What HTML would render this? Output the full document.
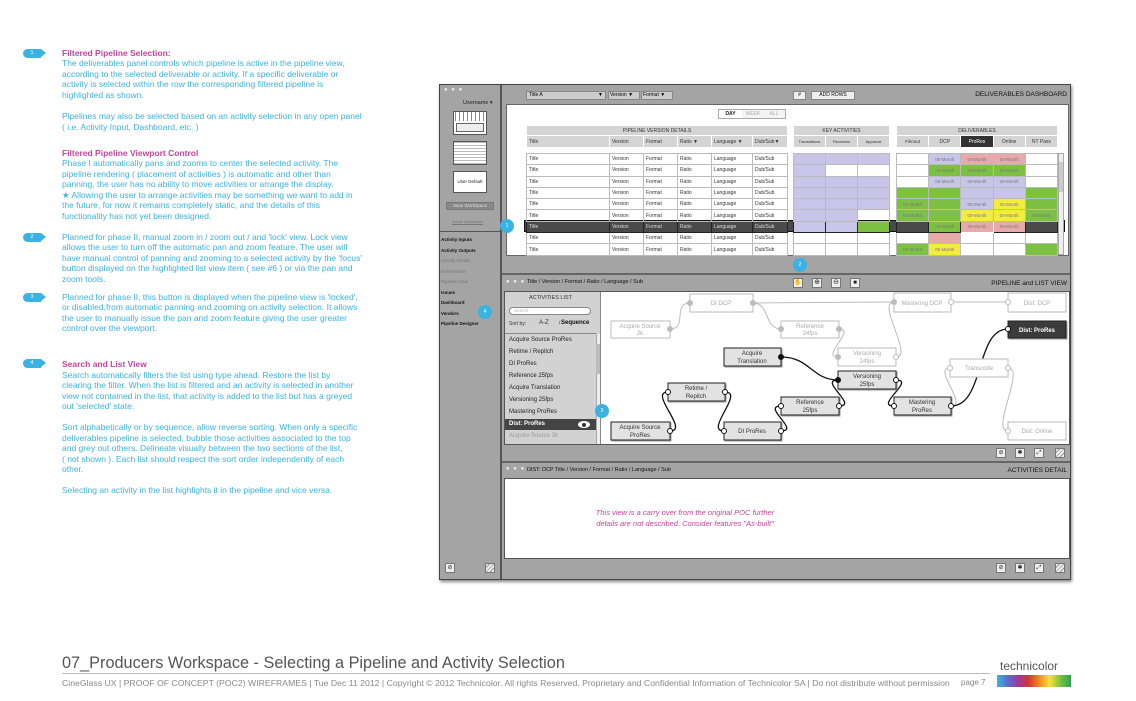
<!DOCTYPE html>
<html><head><meta charset="utf-8">
<style>
*{margin:0;padding:0;box-sizing:border-box}
body{width:1136px;height:701px;background:#fff;position:relative;overflow:hidden;font-family:"Liberation Sans",sans-serif}
.a{position:absolute}
.t{position:absolute;left:62px;font-size:8.5px;color:#3ab3e2;white-space:nowrap;line-height:10px}
.h{color:#c8439b;font-weight:bold}
.bub{position:absolute;width:18px;height:9px;background:#3ab3e2;border-radius:5px 0 0 5px;color:#fff;font-size:5px;line-height:9px;text-align:center}
.bub:after{content:"";position:absolute;right:-5px;top:0;border-left:5px solid #3ab3e2;border-top:4.5px solid transparent;border-bottom:4.5px solid transparent}
.cb{position:absolute;width:14px;height:14px;border-radius:50%;background:#3ab3e2;color:#fff;font-size:5px;line-height:14px;text-align:center}
table{position:absolute;border-collapse:collapse;table-layout:fixed;font-size:5px;color:#333}
td{border:1px solid #bbb;padding:0 2px;height:11.3px;white-space:nowrap;overflow:hidden}
.hd td{background:#d4d4d4;text-align:center;font-weight:normal;border-color:#fff}
.L{background:#c9c5e8}.G{background:#7dc142}.P{background:#e8a9a9}.Y{background:#f3ec3a}.D{background:#4a4a4a;color:#ddd}
.dl td{text-align:center;color:#777;font-size:4.5px}
.sel td{background:#4a4a4a;color:#ddd;border-color:#222}
.ic{position:absolute;width:10px;height:10px;background:#eee;border:1px solid #777;font-size:7px;line-height:8px;text-align:center;color:#222}
.sb{position:absolute;left:441px;font-size:4.5px;font-weight:bold;color:#111}
.sbg{color:#777;font-weight:normal}
.li{position:absolute;left:509px;font-size:6px;color:#222}
</style></head><body>

<!-- left text -->
<div class="bub" style="left:23px;top:49px">1</div>
<div class="t h" style="top:48px">Filtered Pipeline Selection:</div>
<div class="t" style="top:58px">The deliverables panel controls which pipeline is active in the pipeline view,</div>
<div class="t" style="top:69px">according to the selected deliverable or activity.  If a specific deliverable or</div>
<div class="t" style="top:79px">activity is selected within the row the corresponding filtered pipeline is</div>
<div class="t" style="top:90px">highlighted as shown.</div>
<div class="t" style="top:111px">Pipelines may also be selected based on an activity selection in any open panel</div>
<div class="t" style="top:122px">( i.e. Activity Input, Dashboard, etc. )</div>
<div class="t h" style="top:148px">Filtered Pipeline Viewport Control</div>
<div class="t" style="top:158px">Phase I  automatically pans and zooms to center the selected activity.  The</div>
<div class="t" style="top:169px">pipeline rendering ( placement  of activities ) is automatic and other than</div>
<div class="t" style="top:179px">panning, the user has no ability to move activities or arrange the display.</div>
<div class="t" style="top:190px">★ Allowing the user to arrange activities may be something we want to add in</div>
<div class="t" style="top:200px">the future, for now it remains completely static, and the details of this</div>
<div class="t" style="top:211px">functionality has not yet been designed.</div>
<div class="bub" style="left:23px;top:233px">2</div>
<div class="t" style="top:232px">Planned for phase II, manual zoom in / zoom out / and 'lock' view.  Lock view</div>
<div class="t" style="top:242px">allows the user to turn off the automatic pan and zoom feature.  The user will</div>
<div class="t" style="top:253px">have manual control of panning and zooming to a selected activity by the 'focus'</div>
<div class="t" style="top:263px">button displayed on the highlighted list view item ( see #6 ) or via the pan and</div>
<div class="t" style="top:274px">zoom tools.</div>
<div class="bub" style="left:23px;top:293px">3</div>
<div class="t" style="top:292px">Planned for phase II, this button is displayed when the pipeline view is 'locked',</div>
<div class="t" style="top:302px">or disabled,from automatic panning and zooming on activity selection.  It allows</div>
<div class="t" style="top:313px">the user to manually issue the pan and zoom feature giving the user greater</div>
<div class="t" style="top:323px">control over the viewport.</div>
<div class="bub" style="left:23px;top:359px">4</div>
<div class="t h" style="top:359px">Search and List View</div>
<div class="t" style="top:370px">Search automatically filters the list using type ahead.  Restore the list by</div>
<div class="t" style="top:380px">clearing the filter.  When the list is filtered and an activity is selected in another</div>
<div class="t" style="top:391px">view not contained in the list, that activity is added to the list but has a greyed</div>
<div class="t" style="top:401px">out 'selected' state.</div>
<div class="t" style="top:422px">Sort alphabetically or by sequence, allow reverse sorting.  When only a specific</div>
<div class="t" style="top:433px">deliverables pipeline is selected, bubble those activities associated to the top</div>
<div class="t" style="top:443px">and grey out others.  Delineate visually between the two sections of the list,</div>
<div class="t" style="top:454px">( not shown ).  Each list should respect the sort order independently of each</div>
<div class="t" style="top:464px">other.</div>
<div class="t" style="top:485px">Selecting an activity in the list highlights it in the pipeline and vice versa.</div>

<!-- window -->
<div class="a" style="left:439px;top:84px;width:632px;height:496px;background:#a4a4a4;border:1px solid #444;box-shadow:1px 2px 3px #888"></div>
<div class="a" style="left:500px;top:85px;width:2px;height:494px;background:#555"></div>
<div class="a" style="left:440px;top:231px;width:60px;height:1px;background:#555"></div>
<div class="a" style="left:502px;top:273px;width:568px;height:2px;background:#666"></div>
<div class="a" style="left:502px;top:461px;width:568px;height:2px;background:#666"></div>

<!-- sidebar -->
<div class="a" style="left:444px;top:87px;font-size:6px;color:#eee;letter-spacing:1px">● ● ●</div>
<div class="a" style="left:463px;top:100px;font-size:5.5px;color:#222">Username ▾</div>
<div class="a" style="left:453px;top:111px;width:34px;height:24px;background:#fff;border:1px solid #555;background-image:repeating-linear-gradient(90deg,#fff 0 1px,#888 1px 2px,#fff 2px 4px);background-size:100% 9px;background-repeat:no-repeat"></div>
<div class="a" style="left:456px;top:123px;width:28px;height:9px;border:1px solid #666;background:#eee"></div>
<div class="a" style="left:453px;top:141px;width:34px;height:24px;background:#fff;border:1px solid #555;background-image:repeating-linear-gradient(180deg,#bbb 0 1px,#fff 1px 3px)"></div>
<div class="a" style="left:453px;top:171px;width:34px;height:22px;background:#fff;border:1px solid #555;font-size:4.5px;text-align:center;line-height:20px;color:#222">User Default</div>
<div class="a" style="left:446px;top:202px;width:48px;height:8px;background:#888;border:1px solid #777;font-size:4.5px;text-align:center;line-height:6px;color:#ddd">Save Workspace</div>
<div class="a" style="left:452px;top:219px;font-size:4px;color:#777;text-decoration:underline">delete workspace</div>
<div class="sb" style="top:237px">Activity Inputs</div>
<div class="sb" style="top:248px">Activity Outputs</div>
<div class="sb sbg" style="top:258px">Activity Details</div>
<div class="sb sbg" style="top:269px">Deliverables</div>
<div class="sb sbg" style="top:279px">Pipeline View</div>
<div class="sb" style="top:290px">Issues</div>
<div class="sb" style="top:300px">Dashboard</div>
<div class="sb" style="top:311px">Vendors</div>
<div class="sb" style="top:321px">Pipeline Designer</div>
<div class="ic" style="left:445px;top:563px;font-size:6px">⊘</div>
<div class="ic" style="left:485px;top:563px;background:repeating-linear-gradient(135deg,#eee 0 2px,#999 2px 3px)"></div>

<!-- dashboard header -->
<div class="a" style="left:526px;top:91px;width:80px;height:9px;background:#ccc;border:1px solid #888;font-size:5px;line-height:7px;padding-left:2px">Title A<span style="float:right;padding-right:2px">▼</span></div>
<div class="a" style="left:608px;top:91px;width:32px;height:9px;background:#ccc;border:1px solid #888;font-size:5px;line-height:7px;padding-left:1px">Version ▼</div>
<div class="a" style="left:641px;top:91px;width:32px;height:9px;background:#ccc;border:1px solid #888;font-size:5px;line-height:7px;padding-left:1px">Format ▼</div>
<div class="a" style="left:793px;top:91px;width:13px;height:9px;background:#eee;border:1px solid #888;font-size:5px;line-height:7px;text-align:center">#</div>
<div class="a" style="left:811px;top:91px;width:44px;height:9px;background:#eee;border:1px solid #888;font-size:5px;line-height:7px;text-align:center">ADD ROWS</div>
<div class="a" style="left:960px;top:91px;width:107px;text-align:right;font-size:6.5px;color:#111">DELIVERABLES DASHBOARD</div>
<div class="a" style="left:506px;top:104px;width:563px;height:152px;background:#fff;border:1px solid #666"></div>
<div class="a" style="left:718px;top:109px;width:68px;height:10px;border:1px solid #aaa;font-size:5px;line-height:8px;color:#aaa;background:#f4f4f4"><span style="display:inline-block;width:23px;text-align:center;color:#222;background:#fff;font-weight:bold">DAY</span><span style="display:inline-block;width:22px;text-align:center">WEEK</span><span style="display:inline-block;width:20px;text-align:center">ALL</span></div>

<!-- header tables -->
<table class="hd" style="left:526px;top:125px;width:261px"><colgroup><col style="width:83px"><col style="width:34px"><col style="width:34px"><col style="width:34px"><col style="width:41px"><col style="width:35px"></colgroup>
<tr style="height:10px"><td colspan="6" style="height:10px">PIPELINE VERSION DETAILS</td></tr>
<tr style="height:12px"><td style="text-align:left;height:12px">Title</td><td style="text-align:left">Version</td><td style="text-align:left">Format</td><td style="text-align:left">Ratio ▼</td><td style="text-align:left">Language ▼</td><td style="text-align:left">Dub/Sub▼</td></tr></table>
<table class="hd" style="left:793px;top:125px;width:97px"><tr style="height:10px"><td colspan="3" style="height:10px">KEY ACTIVITIES</td></tr>
<tr style="height:12px"><td style="height:12px;font-size:4px">Translations</td><td style="font-size:4px">Revisions</td><td style="font-size:4px">Approval</td></tr></table>
<table class="hd" style="left:896px;top:125px;width:162px"><tr style="height:10px"><td colspan="5" style="height:10px">DELIVERABLES</td></tr>
<tr style="height:12px"><td style="height:12px;font-size:4.5px">Filmout</td><td>DCP</td><td style="background:#333;color:#fff">ProRes</td><td>Online</td><td>NT Pass</td></tr></table>

<!-- selected row band -->
<div class="a" style="left:524px;top:220px;width:541px;height:12px;background:#4a4a4a;border:1px solid #111"></div>

<table style="left:526px;top:153px;width:261px"><colgroup><col style="width:83px"><col style="width:34px"><col style="width:34px"><col style="width:34px"><col style="width:41px"><col style="width:35px"></colgroup>
<tr><td>Title</td><td>Version</td><td>Format</td><td>Ratio</td><td>Language</td><td>Dub/Sub</td></tr>
<tr><td>Title</td><td>Version</td><td>Format</td><td>Ratio</td><td>Language</td><td>Dub/Sub</td></tr>
<tr><td>Title</td><td>Version</td><td>Format</td><td>Ratio</td><td>Language</td><td>Dub/Sub</td></tr>
<tr><td>Title</td><td>Version</td><td>Format</td><td>Ratio</td><td>Language</td><td>Dub/Sub</td></tr>
<tr><td>Title</td><td>Version</td><td>Format</td><td>Ratio</td><td>Language</td><td>Dub/Sub</td></tr>
<tr><td>Title</td><td>Version</td><td>Format</td><td>Ratio</td><td>Language</td><td>Dub/Sub</td></tr>
<tr class="sel"><td>Title</td><td>Version</td><td>Format</td><td>Ratio</td><td>Language</td><td>Dub/Sub</td></tr>
<tr><td>Title</td><td>Version</td><td>Format</td><td>Ratio</td><td>Language</td><td>Dub/Sub</td></tr>
<tr><td>Title</td><td>Version</td><td>Format</td><td>Ratio</td><td>Language</td><td>Dub/Sub</td></tr></table>

<table style="left:793px;top:153px;width:97px">
<tr><td class="L"></td><td class="L"></td><td class="L"></td></tr>
<tr><td class="L"></td><td></td><td></td></tr>
<tr><td class="L"></td><td class="L"></td><td class="L"></td></tr>
<tr><td class="L"></td><td class="L"></td><td class="L"></td></tr>
<tr><td class="L"></td><td class="L"></td><td class="L"></td></tr>
<tr><td class="L"></td><td class="L"></td><td></td></tr>
<tr><td class="L" style="border-color:#222"></td><td class="L" style="border-color:#222"></td><td class="G" style="border-color:#222"></td></tr>
<tr><td></td><td></td><td></td></tr>
<tr><td></td><td></td><td></td></tr></table>

<table class="dl" style="left:896px;top:153px;width:162px">
<tr><td></td><td class="L">00-Month</td><td class="P">00-Month</td><td class="P">00-Month</td><td></td></tr>
<tr><td></td><td class="G">00-Month</td><td class="G">00-Month</td><td class="G">00-Month</td><td></td></tr>
<tr><td></td><td class="L">00-Month</td><td class="L">00-Month</td><td class="L">00-Month</td><td></td></tr>
<tr><td class="G"></td><td class="G"></td><td class="L"></td><td class="L"></td><td class="G"></td></tr>
<tr><td class="G">00-Month</td><td class="G"></td><td class="L">00-Month</td><td class="Y">00-Month</td><td class="G"></td></tr>
<tr><td class="G">00-Month</td><td class="G"></td><td class="Y">00-Month</td><td class="Y">00-Month</td><td class="G">00-Month</td></tr>
<tr><td class="D" style="border-color:#222"></td><td class="G" style="border-color:#222">00-Month</td><td class="P" style="border:1px solid #fff">00-Month</td><td class="P" style="border-color:#222">00-Month</td><td class="D" style="border-color:#222"></td></tr>
<tr><td></td><td class="P"></td><td></td><td></td><td></td></tr>
<tr><td class="G">00-Month</td><td class="Y">00-Month</td><td></td><td></td><td class="G"></td></tr></table>
<div class="a" style="left:1058px;top:153px;width:6px;height:102px;background:#eee;border:1px solid #aaa"></div>
<div class="a" style="left:1059px;top:162px;width:4px;height:30px;background:#ccc"></div>

<!-- pipeline panel -->
<div class="a" style="left:506px;top:279px;font-size:6px;color:#eee;letter-spacing:1px">● ● ●</div>
<div class="a" style="left:527px;top:279px;font-size:5.5px;color:#111">Title / Version / Format / Ratio / Language / Sub</div>
<div class="ic" style="left:793px;top:278px;font-size:6px">✋</div>
<div class="ic" style="left:812px;top:278px;font-size:7px">⊕</div>
<div class="ic" style="left:831px;top:278px;font-size:7px">⊖</div>
<div class="ic" style="left:850px;top:278px;font-size:6px">■</div>
<div class="a" style="left:960px;top:280px;width:107px;text-align:right;font-size:6.5px;color:#111">PIPELINE and LIST VIEW</div>
<div class="a" style="left:504px;top:291px;width:566px;height:154px;background:#fff;border:1px solid #555"></div>
<div class="a" style="left:505px;top:292px;width:96px;height:152px;background:#d2d2d2;border-right:1px solid #888"></div>
<div class="a" style="left:505px;top:295px;width:91px;text-align:center;font-size:5.5px;color:#333">ACTIVITIES LIST</div>
<div class="a" style="left:509px;top:307px;width:82px;height:8px;background:#fff;border:1px solid #888;border-radius:4px;font-size:4.5px;color:#bbb;padding-left:4px;line-height:6px">Search</div>
<div class="a" style="left:509px;top:321px;font-size:5px;color:#333">Sort by:</div>
<div class="a" style="left:539px;top:320px;font-size:6px;color:#333">A-Z</div>
<div class="a" style="left:558px;top:320px;font-size:6px;color:#111;font-weight:bold">↓Sequence</div>
<div class="a" style="left:505px;top:333px;width:91px;height:1px;background:#888"></div>
<div class="li" style="top:337px">Acquire Source ProRes</div>
<div class="li" style="top:349px">Retime / Repitch</div>
<div class="li" style="top:361px">DI ProRes</div>
<div class="li" style="top:373px">Reference 25fps</div>
<div class="li" style="top:385px">Acquire Translation</div>
<div class="li" style="top:397px">Versioning 25fps</div>
<div class="li" style="top:409px">Mastering ProRes</div>
<div class="a" style="left:505px;top:419px;width:91px;height:11px;background:#444"></div>
<div class="li" style="top:421px;color:#fff;font-weight:bold">Dist: ProRes</div>
<div class="a" style="left:578px;top:421px;width:12px;height:7px;border:1px solid #fff;border-radius:50%;background:#fff"></div>
<div class="a" style="left:582px;top:423px;width:4px;height:4px;border-radius:50%;background:#333"></div>
<div class="li" style="top:433px;color:#999">Acquire Source 2k</div>
<div class="a" style="left:596px;top:334px;width:4px;height:110px;background:#eee;border-left:1px solid #aaa"></div>
<div class="a" style="left:596px;top:344px;width:4px;height:30px;background:#bbb"></div>
<div class="ic" style="left:996px;top:448px;font-size:6px">⊘</div>
<div class="ic" style="left:1015px;top:448px;font-size:6px">✱</div>
<div class="ic" style="left:1034px;top:448px;font-size:6px">⤢</div>
<div class="ic" style="left:1055px;top:448px;background:repeating-linear-gradient(135deg,#eee 0 2px,#999 2px 3px)"></div>

<svg class="a" style="left:0;top:0" width="1136" height="701" viewBox="0 0 1136 701" font-family="Liberation Sans, sans-serif" font-size="6">
<defs><filter id="s"><feDropShadow dx="1" dy="1" stdDeviation="0.6" flood-color="#555" flood-opacity="0.6"/></filter></defs>
<g fill="none" stroke="#bbb" stroke-width="1">
<path d="M670 329 C688 329 672 303 690 303"/>
<path d="M753 303 C770 303 764 329 781 329"/>
<path d="M753 303 L894 302"/>
<path d="M839 329 C857 329 820 357 838 357"/>
<path d="M896 357 C914 357 876 302 894 302"/>
<path d="M951 302 L1008 302"/>
<path d="M951 406 C969 406 932 368 950 368"/>
<path d="M1008 368 C1026 368 990 431 1008 431"/>
</g>
<g fill="none" stroke="#111" stroke-width="1.3">
<path d="M670 431 C690 431 648 392 668 392"/>
<path d="M725 392 C745 392 704 431 724 431"/>
<path d="M781 431 C801 431 761 406 781 406"/>
<path d="M839 406 C859 406 818 380 838 380"/>
<path d="M781 357 C810 357 812 380 838 380"/>
<path d="M896 380 C916 380 874 406 894 406"/>
<path d="M951 406 C985 406 975 329 1008 329"/>
</g>
<g fill="#fff" stroke="#bbb">
<rect x="690" y="294" width="63" height="18"/><rect x="611" y="321" width="59" height="17"/>
<rect x="781" y="321" width="58" height="17"/><rect x="894" y="293" width="57" height="19"/>
<rect x="1008" y="293" width="58" height="19"/><rect x="838" y="348" width="58" height="18"/>
<rect x="950" y="359" width="58" height="18"/><rect x="1008" y="422" width="58" height="18"/>
</g>
<g fill="#aaa" text-anchor="middle">
<text x="721" y="305">DI DCP</text><text x="640" y="328">Acquire Source</text><text x="640" y="335">2k</text>
<text x="810" y="328">Reference</text><text x="810" y="335">24fps</text><text x="922" y="305">Mastering DCP</text>
<text x="1037" y="305">Dist: DCP</text><text x="867" y="355">Versioning</text><text x="867" y="363">24fps</text>
<text x="979" y="370">Transcode</text><text x="1037" y="433">Dist: Online</text>
</g>
<g fill="#e2e2e2" stroke="#222" filter="url(#s)">
<rect x="724" y="348" width="57" height="18"/><rect x="838" y="371" width="58" height="18"/>
<rect x="668" y="383" width="57" height="18"/><rect x="781" y="397" width="58" height="18"/>
<rect x="894" y="397" width="57" height="18"/><rect x="611" y="422" width="59" height="18"/>
<rect x="724" y="422" width="57" height="18"/>
<rect x="1008" y="321" width="58" height="17" fill="#3a3a3a"/>
</g>
<g fill="#333" text-anchor="middle">
<text x="752" y="355">Acquire</text><text x="752" y="363">Translation</text>
<text x="867" y="378">Versioning</text><text x="867" y="386">25fps</text>
<text x="696" y="390">Retime /</text><text x="696" y="398">Repitch</text>
<text x="810" y="404">Reference</text><text x="810" y="412">25fps</text>
<text x="922" y="404">Mastering</text><text x="922" y="412">ProRes</text>
<text x="640" y="429">Acquire Source</text><text x="640" y="437">ProRes</text>
<text x="752" y="433">DI ProRes</text>
<text x="1037" y="332" fill="#fff" font-weight="bold">Dist: ProRes</text>
</g>
<g fill="#fff" stroke="#bbb">
<circle cx="690" cy="303" r="2.5" fill="#bbb"/><circle cx="753" cy="303" r="2.5" fill="#bbb"/><circle cx="670" cy="329" r="2.5" fill="#bbb"/>
<circle cx="781" cy="329" r="2.5" fill="#bbb"/><circle cx="839" cy="329" r="2.5" fill="#bbb"/><circle cx="894" cy="302" r="2.5" fill="#bbb"/>
<circle cx="951" cy="302" r="2.5"/><circle cx="1008" cy="302" r="2.5"/><circle cx="838" cy="357" r="2.5" fill="#bbb"/>
<circle cx="896" cy="357" r="2.5"/><circle cx="950" cy="368" r="2.5"/><circle cx="1008" cy="368" r="2.5"/><circle cx="1008" cy="431" r="2.5"/>
</g>
<g fill="#fff" stroke="#111">
<circle cx="670" cy="431" r="2.5"/><circle cx="668" cy="392" r="2.5"/><circle cx="725" cy="392" r="2.5"/><circle cx="724" cy="431" r="2.5"/>
<circle cx="781" cy="431" r="2.5"/><circle cx="781" cy="406" r="2.5"/><circle cx="839" cy="406" r="2.5"/><circle cx="838" cy="380" r="2.5" fill="#111"/>
<circle cx="781" cy="357" r="2.5" fill="#111"/><circle cx="896" cy="380" r="2.5"/><circle cx="894" cy="406" r="2.5"/><circle cx="951" cy="406" r="2.5"/><circle cx="1008" cy="329" r="2.5"/>
</g>
</svg>

<!-- detail panel -->
<div class="a" style="left:506px;top:466px;font-size:6px;color:#eee;letter-spacing:1px">● ● ●</div>
<div class="a" style="left:527px;top:467px;font-size:5.5px;color:#111">DIST: DCP Title / Version / Format / Ratio / Language / Sub</div>
<div class="a" style="left:960px;top:467px;width:107px;text-align:right;font-size:6.5px;color:#111">ACTIVITIES DETAIL</div>
<div class="a" style="left:504px;top:478px;width:566px;height:81px;background:#fff;border:1px solid #555"></div>
<div class="a" style="left:560px;top:507px;width:250px;text-align:center;font-size:7.5px;font-style:italic;color:#c8439b;line-height:11px">This view is a carry over from the original POC further<br>details are not described. Consider features "As-built"</div>
<div class="ic" style="left:996px;top:563px;font-size:6px">⊘</div>
<div class="ic" style="left:1015px;top:563px;font-size:6px">✱</div>
<div class="ic" style="left:1034px;top:563px;font-size:6px">⤢</div>
<div class="ic" style="left:1055px;top:563px;background:repeating-linear-gradient(135deg,#eee 0 2px,#999 2px 3px)"></div>

<!-- callouts -->
<div class="cb" style="left:500px;top:219px">1</div>
<div class="cb" style="left:793px;top:258px">2</div>
<div class="cb" style="left:595px;top:404px">3</div>
<div class="cb" style="left:478px;top:305px">4</div>

<!-- footer -->
<div class="a" style="left:62px;top:654px;font-size:16.3px;color:#555;white-space:nowrap">07_Producers Workspace - Selecting a Pipeline and Activity Selection</div>
<div class="a" style="left:62px;top:673px;width:928px;height:1px;background:#bbb"></div>
<div class="a" style="left:62px;top:678px;font-size:8.7px;color:#888;white-space:nowrap">CineGlass UX | PROOF OF CONCEPT (POC2) WIREFRAMES | Tue Dec 11 2012 | Copyright © 2012 Technicolor. All rights Reserved. Proprietary and Confidential Information of Technicolor SA | Do not distribute without permission</div>
<div class="a" style="left:961px;top:678px;font-size:8px;color:#888">page 7</div>
<div class="a" style="left:1000px;top:659px;font-size:12px;color:#555">technicolor</div>
<div class="a" style="left:997px;top:675px;width:74px;height:12px;background:linear-gradient(90deg,#3ab3e2,#5a6fc8,#9a3aa0,#d8352f,#f08a20,#f5e23a,#7dc142,#2aa050)"></div>
</body></html>
